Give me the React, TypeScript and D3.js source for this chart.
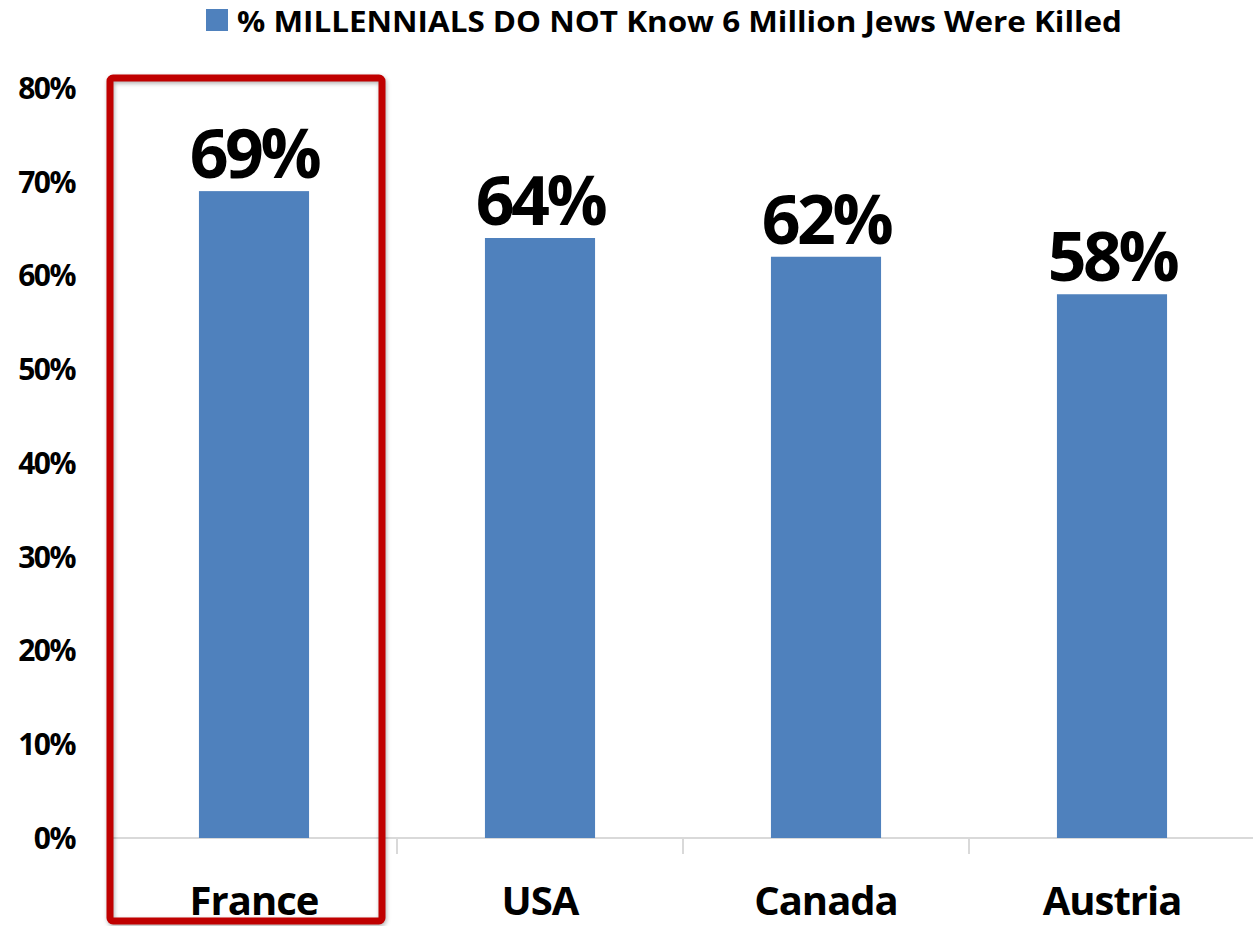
import { useEffect, useRef } from "react";
import * as d3 from "d3";

const countries = ["France", "USA", "Canada", "Austria"];
const values = [69, 64, 62, 58];
const yTicks = [0, 10, 20, 30, 40, 50, 60, 70, 80];
const seriesName = "% MILLENNIALS DO NOT Know 6 Million Jews Were Killed";
const highlighted = "France";

export default function App() {
  const chartRef = useRef<SVGSVGElement>(null);

  useEffect(() => {
    if (!chartRef.current) return;
    document.body.style.margin = "0";

    const svg = d3.select(chartRef.current);
    svg.selectAll("*").remove();

    const width = 1253;
    const height = 926;
    const margin = { top: 88, right: 0, bottom: 88, left: 111 };
    const font = "'Open Sans', 'DejaVu Sans', sans-serif";
    const barColor = "#4F81BD";

    const data = countries.map((c, i) => ({ country: c, value: values[i] }));

    const x = d3
      .scaleBand()
      .domain(countries)
      .range([margin.left, margin.left + 286 * countries.length])
      .padding(0);

    const y = d3
      .scaleLinear()
      .domain([0, 80])
      .range([height - margin.bottom, margin.top]);

    const barW = x.bandwidth() * 0.385;

    // baseline
    svg
      .append("line")
      .attr("x1", margin.left)
      .attr("x2", width)
      .attr("y1", y(0))
      .attr("y2", y(0))
      .attr("stroke", "#D9D9D9")
      .attr("stroke-width", 2);

    // category separators
    svg
      .selectAll(".sep")
      .data(countries.slice(1))
      .join("line")
      .attr("class", "sep")
      .attr("x1", (d) => x(d) || 0)
      .attr("x2", (d) => x(d) || 0)
      .attr("y1", y(0))
      .attr("y2", y(0) + 16)
      .attr("stroke", "#D9D9D9")
      .attr("stroke-width", 2);

    // bars
    svg
      .selectAll(".bar")
      .data(data)
      .join("rect")
      .attr("class", "bar")
      .attr("x", (d) => (x(d.country) || 0) + x.bandwidth() / 2 - barW / 2)
      .attr("y", (d) => y(d.value))
      .attr("width", barW)
      .attr("height", (d) => y(0) - y(d.value))
      .attr("fill", barColor);

    // value labels
    svg
      .selectAll(".label")
      .data(data)
      .join("text")
      .attr("class", "label")
      .attr("x", (d) => (x(d.country) || 0) + x.bandwidth() / 2)
      .attr("y", (d) => y(d.value) - 13)
      .attr("text-anchor", "middle")
      .style("font-family", font)
      .style("font-weight", "bold")
      .style("font-size", "68px")
      .style("letter-spacing", "-3.5px")
      .text((d) => `${d.value}%`);

    // y axis labels
    svg
      .selectAll(".ytick")
      .data(yTicks)
      .join("text")
      .attr("class", "ytick")
      .attr("x", 75)
      .attr("y", (d) => y(d))
      .attr("dy", "0.36em")
      .attr("text-anchor", "end")
      .style("font-family", font)
      .style("font-weight", "bold")
      .style("font-size", "30px")
      .style("letter-spacing", "-1.5px")
      .text((d) => `${d}%`);

    // category labels
    svg
      .selectAll(".xlab")
      .data(countries)
      .join("text")
      .attr("class", "xlab")
      .attr("x", (d) => (x(d) || 0) + x.bandwidth() / 2)
      .attr("y", 915)
      .attr("text-anchor", "middle")
      .style("font-family", font)
      .style("font-weight", "bold")
      .style("font-size", "40px")
      .style("letter-spacing", "-1px")
      .text((d) => d);

    // legend
    svg
      .append("rect")
      .attr("x", 206)
      .attr("y", 9)
      .attr("width", 22)
      .attr("height", 22)
      .attr("fill", barColor);
    svg
      .append("text")
      .attr("x", 237)
      .attr("y", 32)
      .attr("textLength", 885)
      .attr("lengthAdjust", "spacingAndGlyphs")
      .style("font-family", font)
      .style("font-weight", "bold")
      .style("font-size", "29px")
      .text(seriesName);

    // highlight box
    const hx = x(highlighted) || 0;
    svg
      .append("rect")
      .attr("x", hx - 1)
      .attr("y", 78)
      .attr("width", 272)
      .attr("height", 843)
      .attr("rx", 3)
      .attr("fill", "none")
      .attr("stroke", "#C00000")
      .attr("stroke-width", 7)
      .style("filter", "drop-shadow(1px 2px 2px rgba(0,0,0,0.3))");
  }, []);

  return (
    <svg
      ref={chartRef}
      width={1253}
      height={926}
      style={{ display: "block", background: "#fff" }}
    ></svg>
  );
}
